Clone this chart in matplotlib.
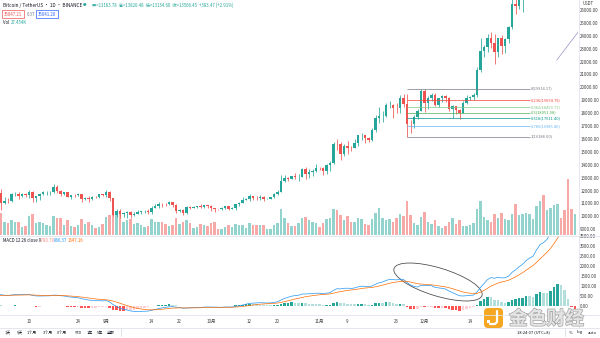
import numpy as np
import pandas as pd
import matplotlib
matplotlib.use('Agg')
import matplotlib.pyplot as plt
import matplotlib.patheffects as pe
from matplotlib.lines import Line2D
from matplotlib.patches import Ellipse, FancyBboxPatch, Rectangle

plt.rcParams['font.family'] = ['Noto Sans CJK SC', 'DejaVu Sans']

# BTC/USDT daily candles, 2020-08-01 .. 2021-01-13
dates = pd.date_range('2020-08-01', '2021-01-13', freq='D')

opens = [
    11335, 11801, 11072, 11220, 11191, 11744, 11762, 11595, 11754, 11676, 11878, 11411, 11585, 11769, 11865, 11913,
    11916, 12281, 11945, 11754, 11853, 11531, 11662, 11649, 11750, 11318, 11461, 11330, 11526, 11465, 11711,
    11650, 11924, 11388, 10140, 10446, 10169, 10255, 10373, 10126, 10221, 10342, 10392, 10442, 10323, 10680,
    10786, 10954, 10939, 10933, 11080, 10920, 10417, 10529, 10241, 10737, 10686, 10728, 10775, 10709, 10845,
    10776, 10620, 10570, 10542, 10666, 10792, 10599, 10669, 10923, 11050, 11296, 11384, 11555, 11429, 11422,
    11502, 11319, 11360, 11503, 11751, 11910, 12780, 12968, 12923, 13111, 13031, 13068, 13654, 13271, 13437, 13546,
    13781, 13761, 13549, 14023, 14144, 15590, 15580, 14817, 15475, 15328, 15297, 15701, 16276, 16318, 16068,
    15955, 16716, 17645, 17804, 17817, 18621, 18642, 18370, 18365, 19160, 18719, 17150, 17139, 17720, 18185,
    19696, 18765, 19205, 19422, 18650, 19148, 19359, 19167, 18324, 18541, 18255, 18036, 18808, 19175, 19273,
    19426, 21335, 22797, 23107, 23821, 23455, 22719, 23810, 23232, 23729, 24712, 26493, 26281, 27079, 27385, 28875,
    28923, 29331, 32176, 33000, 31989, 33949, 36769, 39432, 40586, 40088, 38150, 35410, 34049,
]
highs = [
    11862, 12124, 11474, 11418, 11786, 11914, 11902, 11808, 11807, 12067, 11945, 11618, 11800, 12000, 11975, 11935,
    12486, 12400, 12020, 11888, 11878, 11686, 11718, 11824, 11767, 11539, 11594, 11555, 11580, 11719, 11768,
    12067, 11950, 11462, 10580, 10565, 10350, 10400, 10440, 10350, 10483, 10400, 10478, 10584, 10790, 10950,
    11102, 11045, 11038, 11179, 11080, 10988, 10573, 10539, 10775, 10770, 10820, 10800, 10950, 10867, 10858,
    10920, 10665, 10600, 10700, 10800, 10800, 10695, 10960, 11104, 11485, 11443, 11720, 11557, 11560, 11630,
    11545, 11400, 11530, 11820, 12040, 13217, 13185, 13028, 13165, 13350, 13250, 13790, 13866, 13640, 13696, 14100,
    13867, 13830, 14067, 14259, 15750, 15969, 15770, 15650, 15840, 15460, 15965, 16340, 16480, 16332, 16134,
    16890, 17858, 18476, 18179, 18815, 18965, 18750, 18770, 19418, 19484, 19500, 17457, 17854, 18354, 19864,
    19914, 19342, 19566, 19527, 19177, 19420, 19420, 19294, 18639, 18557, 18292, 18948, 19411, 19349, 19570,
    21560, 23800, 23285, 24171, 24295, 24102, 23837, 24100, 23794, 24789, 26867, 28422, 27500, 27410, 28996, 29300,
    29600, 33300, 34778, 33600, 34360, 36939, 40365, 41950, 41380, 41350, 38264, 36628, 37850,
]
lows = [
    11226, 10518, 10975, 11000, 11093, 11562, 11338, 11538, 11521, 11461, 11130, 11135, 11278, 11670, 11693, 11689,
    11847, 11810, 11564, 11667, 11485, 11376, 11514, 11585, 11117, 11254, 11135, 11290, 11412, 11458, 11573,
    11531, 11160, 10000, 9960, 9875, 9990, 9900, 9887, 10015, 10190, 10191, 10285, 10200, 10213, 10630,
    10671, 10745, 10810, 10891, 10760, 10266, 10353, 10136, 10195, 10550, 10635, 10620, 10641, 10660, 10667,
    10432, 10365, 10495, 10520, 10600, 10530, 10565, 10530, 10830, 11050, 11250, 11178, 11300, 11284, 11265,
    11210, 11315, 11347, 11420, 11680, 11900, 12690, 12720, 12888, 12888, 12775, 13050, 12920, 12995, 13120, 13431,
    13600, 13195, 13290, 13525, 14093, 15160, 14344, 14703, 14805, 15072, 15272, 15440, 15952, 15700, 15800,
    15870, 16557, 17214, 17335, 17741, 18400, 17610, 18000, 18018, 18500, 16188, 16438, 16865, 17517, 18185,
    18100, 18330, 18925, 18565, 18500, 18857, 18902, 18200, 17650, 17911, 17572, 18020, 18711, 19000, 19050,
    19278, 21230, 22350, 22750, 23060, 21815, 22353, 22600, 22703, 23433, 24500, 25700, 26101, 25880, 27320, 27850,
    28624, 28946, 31963, 28130, 29900, 33288, 36300, 36500, 38720, 35111, 30420, 32531, 32380,
]
closes = [
    11801, 11072, 11220, 11191, 11744, 11762, 11595, 11754, 11676, 11878, 11411, 11585, 11769, 11865, 11913, 11916,
    12281, 11945, 11754, 11853, 11531, 11662, 11649, 11750, 11318, 11461, 11330, 11526, 11465, 11711, 11650,
    11924, 11388, 10140, 10446, 10169, 10255, 10373, 10126, 10221, 10342, 10392, 10442, 10323, 10680, 10786,
    10954, 10939, 10933, 11080, 10920, 10417, 10529, 10241, 10737, 10686, 10728, 10775, 10709, 10845, 10776,
    10620, 10570, 10542, 10666, 10792, 10599, 10669, 10923, 11050, 11296, 11384, 11555, 11429, 11422, 11502,
    11319, 11360, 11503, 11751, 11910, 12780, 12968, 12923, 13111, 13031, 13068, 13654, 13271, 13437, 13546, 13781,
    13761, 13549, 14023, 14144, 15590, 15580, 14817, 15475, 15328, 15297, 15701, 16276, 16318, 16068, 15955,
    16716, 17645, 17804, 17817, 18621, 18642, 18370, 18365, 19160, 18719, 17150, 17139, 17720, 18185, 19696,
    18765, 19205, 19422, 18650, 19148, 19359, 19167, 18324, 18541, 18255, 18036, 18808, 19175, 19273, 19426,
    21335, 22797, 23107, 23821, 23455, 22719, 23810, 23232, 23729, 24712, 26493, 26281, 27079, 27385, 28875, 28923,
    29331, 32178, 33000, 31988, 33949, 36769, 39432, 40582, 40088, 38150, 35404, 34051, 37371,
]
# volume, thousand BTC
volumes = [
    60, 100, 60, 55, 65, 60, 60, 35, 40, 85, 95, 55, 60, 55, 45, 40,
    85, 75, 75, 45, 65, 40, 35, 45, 70, 50, 60, 45, 30, 35, 50,
    80, 90, 120, 90, 105, 60, 65, 70, 50, 55, 45, 35, 40, 70, 60,
    60, 60, 50, 40, 45, 75, 50, 60, 65, 55, 30, 35, 50, 45, 40,
    55, 60, 25, 25, 35, 45, 35, 50, 45, 45, 30, 55, 45, 45, 45,
    45, 25, 25, 45, 55, 115, 75, 55, 40, 40, 55, 75, 80, 65, 60, 55,
    35, 55, 70, 75, 115, 110, 90, 65, 85, 60, 60, 75, 70, 50, 45,
    70, 100, 120, 75, 65, 70, 60, 75, 95, 85, 150, 90, 55, 45, 80,
    105, 60, 50, 65, 40, 30, 40, 60, 75, 50, 65, 40, 40, 45, 55,
    115, 150, 80, 65, 60, 95, 75, 100, 70, 65, 95, 140, 90, 95, 100, 95,
    70, 130, 150, 180, 110, 120, 135, 140, 75, 110, 250, 115, 95,
]
# MACD(12, 26, close, 9): fast line and signal line
macd_line = [
    600, 560, 540, 520, 550, 570, 565, 570, 565, 575, 530, 505, 500, 505, 510, 510,
    545, 540, 515, 500, 465, 445, 425, 415, 365, 335, 300, 285, 265, 265, 255,
    270, 215, 70, -15, -105, -165, -200, -245, -270, -275, -270, -260, -255, -215, -175,
    -130, -95, -70, -40, -30, -60, -75, -110, -100, -95, -85, -75, -70, -55, -50,
    -55, -65, -70, -65, -50, -55, -50, -25, 5, 50, 90, 130, 145, 155, 165,
    155, 150, 155, 180, 210, 300, 380, 435, 490, 520, 540, 595, 600, 610, 620, 640,
    640, 620, 645, 665, 785, 865, 855, 885, 890, 880, 900, 955, 990, 985, 965,
    1000, 1090, 1160, 1200, 1280, 1325, 1320, 1305, 1345, 1325, 1180, 1050, 980, 950, 1040,
    1025, 1020, 1015, 935, 905, 885, 850, 745, 670, 590, 510, 500, 515, 525, 545,
    700, 930, 1120, 1320, 1420, 1390, 1430, 1405, 1410, 1490, 1680, 1810, 1960, 2080, 2270, 2390,
    2490, 2800, 3070, 3170, 3330, 3650, 4090, 4480, 4700, 4640, 4280, 3850, 3730,
]
signal_line = [
    520, 530, 532, 530, 534, 541, 546, 551, 554, 558, 553, 543, 535, 529, 525, 522,
    526, 529, 526, 521, 510, 497, 483, 469, 448, 425, 400, 377, 355, 337, 320,
    310, 291, 247, 195, 135, 75, 20, -33, -80, -119, -149, -171, -188, -193, -189,
    -177, -161, -143, -122, -104, -95, -91, -95, -96, -96, -94, -90, -86, -80, -74,
    -70, -69, -69, -68, -64, -62, -60, -53, -41, -23, 0, 26, 50, 71, 90,
    103, 112, 121, 132, 148, 178, 218, 261, 307, 349, 387, 429, 463, 492, 518, 542,
    562, 573, 588, 603, 640, 685, 719, 752, 780, 800, 820, 847, 876, 898, 911,
    929, 961, 1001, 1041, 1089, 1136, 1173, 1199, 1228, 1248, 1234, 1197, 1154, 1113, 1098,
    1083, 1070, 1059, 1034, 1008, 984, 957, 915, 866, 811, 751, 701, 664, 636, 618,
    634, 693, 778, 886, 993, 1072, 1144, 1196, 1239, 1289, 1367, 1456, 1557, 1662, 1784, 1905,
    2022, 2178, 2356, 2519, 2681, 2875, 3118, 3390, 3652, 3850, 3936, 3919, 3881,
]

tick_dates = ['2020-08-10', '2020-08-24', '2020-09-01', '2020-09-14', '2020-09-22', '2020-10-01', '2020-10-12',
              '2020-10-20', '2020-11-01', '2020-11-09', '2020-11-23', '2020-12-01', '2020-12-14']
tick_labels = ['10', '24', '9月', '14', '22', '10月', '12', '20', '11月', '9', '23', '12月', '14']

# fibonacci retracement drawn from the 11-26 low
fib_ratios = ['0', '0.236', '0.382', '0.5', '0.618', '0.786', '1']
fib_prices = [19914.17, 19034.79, 18490.77, 18051.08, 17611.40, 16985.40, 16188.00]
fib_colors = ['#787b86', '#f44336', '#81c784', '#4caf50', '#009688', '#64b5f6', '#787b86']
fib_span = ['2020-11-26', '2020-12-31']

# user trend line (day offsets from the first candle, price)
trend_days = [159.8, 165.9]
trend_prices = [22120, 24290]

W, H = 600, 338
UP, DOWN = '#26a69a', '#ef5350'
TXT = '#3c3c3c'
SMALL = 3.2


def box(x0, y0, x1, y1):
    # pixel box (top-left origin) -> figure fraction rect
    return [x0 / W, 1 - y1 / H, (x1 - x0) / W, (y1 - y0) / H]


def fpos(x, y):
    return x / W, 1 - y / H


x = np.arange(len(dates))
o, h, l, c = map(np.array, (opens, highs, lows, closes))
up = c >= o
x0_lim = 9 - 29 / 3.5
x1_lim = x0_lim + 578 / 3.5

fig = plt.figure(figsize=(W / 100, H / 100), dpi=100)

# volume overlay sits under the price pane
axv = fig.add_axes(box(0, 0, 578, 235))
axv.bar(x, volumes, width=0.75, color=np.where(up, '#93d3cd', '#f7a9a8'), linewidth=0)
axv.set_xlim(x0_lim, x1_lim)
axv.set_ylim(0, max(volumes) * 4.2)
axv.axis('off')

ax = fig.add_axes(box(0, 0, 578, 235))
ax.patch.set_visible(False)
ax.vlines(x, l, h, color=np.where(up, UP, DOWN), linewidth=0.55)
ax.bar(x, np.maximum(np.abs(c - o), 15), bottom=np.minimum(o, c), width=0.66,
       color=np.where(up, UP, DOWN), linewidth=0)
ax.set_xlim(x0_lim, x1_lim)
ax.set_ylim(8558, 26775)

fx = [dates.get_loc(pd.Timestamp(d)) for d in fib_span]
for r, p, col in zip(fib_ratios, fib_prices, fib_colors):
    ax.hlines(p, fx[0], fx[1], color=col, linewidth=0.5)
    ax.text(fx[1] + 0.4, p, f'{r}({p:.2f})', color=col, fontsize=2.9, va='center', ha='left')

ax.plot(trend_days, trend_prices, color='#9b8fc4', linewidth=0.5)

ax.yaxis.tick_right()
ax.set_yticks(range(9000, 26001, 1000))
ax.set_yticklabels([f'{v:.2f}' for v in range(9000, 26001, 1000)])
ax.tick_params(axis='y', length=0, pad=1.6, labelsize=SMALL, labelcolor=TXT)
ax.set_xticks([])
for s in ax.spines.values():
    s.set_visible(False)

# MACD pane
axm = fig.add_axes(box(0, 236, 578, 314))
hist = np.array(macd_line) - np.array(signal_line)
prev = np.r_[hist[0], hist[:-1]]
hcol = np.where(hist >= 0, np.where(hist > prev, '#26a69a', '#b2dfdb'),
                np.where(hist > prev, '#ffcdd2', '#ff5252'))
axm.bar(x, hist, width=0.75, color=hcol, linewidth=0)
axm.plot(x, macd_line, color='#2196f3', linewidth=0.5)
axm.plot(x, signal_line, color='#ff6d00', linewidth=0.5)
axm.set_xlim(x0_lim, x1_lim)
axm.set_ylim(-400, 3500)
axm.yaxis.tick_right()
axm.set_yticks(range(0, 3501, 500))
axm.set_yticklabels([f'{v:.2f}' for v in range(0, 3501, 500)])
axm.tick_params(axis='y', length=0, pad=1.6, labelsize=SMALL, labelcolor=TXT)
axm.set_xticks([dates.get_loc(pd.Timestamp(d)) for d in tick_dates])
axm.set_xticklabels(tick_labels)
axm.tick_params(axis='x', length=0, pad=3.5, labelsize=SMALL, labelcolor=TXT)
for s in axm.spines.values():
    s.set_visible(False)

# hand-drawn ellipse around the crossover
axm.add_patch(Ellipse((4.38, (H - 282) / 100), 0.92, 0.28, angle=-17, fill=False,
                      edgecolor='#444444', linewidth=0.55, transform=fig.dpi_scale_trans))

# pane separators
for (xa, ya, xb, yb) in [(0, 235.5, 600, 235.5), (0, 314.5, 600, 314.5), (0, 327.5, 600, 327.5),
                         (578.5, 0, 578.5, 327.5)]:
    fig.add_artist(Line2D([xa / W, xb / W], [1 - ya / H, 1 - yb / H], color='#e0e3eb', linewidth=0.6))

# header
fig.text(*fpos(3, 5), 'Bitcoin / TetherUS · 1D · BINANCE', fontsize=3.4, color='#131722', va='center')
fig.text(*fpos(83, 5), '●', fontsize=2.6, color=UP, va='center')
fig.text(*fpos(92, 5), '开=13183.78  高=13826.48  低=13134.60  收=13566.45  +383.47 (+2.91%)',
         fontsize=3.1, color=UP, va='center')
fig.text(*fpos(4, 14), '35047.21', fontsize=3.1, color=DOWN, va='center',
         bbox=dict(boxstyle='square,pad=0.35', fc='white', ec=DOWN, lw=0.5))
fig.text(*fpos(26.5, 14), '6.37', fontsize=3.1, color='#787b86', va='center')
fig.text(*fpos(38, 14), '35041.20', fontsize=3.1, color='#2962ff', va='center',
         bbox=dict(boxstyle='square,pad=0.35', fc='white', ec='#2962ff', lw=0.5))
fig.text(*fpos(3, 23), 'Vol', fontsize=3.1, color='#131722', va='center')
fig.text(*fpos(11, 23), '27.454K', fontsize=3.1, color=UP, va='center')
fig.text(*fpos(583, 3.5), 'USDT', fontsize=3.1, color=TXT, va='center')

# MACD legend
fig.text(*fpos(3, 240), 'MACD 12 26 close 9', fontsize=3.1, color='#131722', va='center')
fig.text(*fpos(40, 240), '-780.79', fontsize=3.1, color='#ff8a80', va='center')
fig.text(*fpos(54, 240), '866.37', fontsize=3.1, color='#2196f3', va='center')
fig.text(*fpos(68, 240), '1647.16', fontsize=3.1, color='#ff6d00', va='center')

# bottom toolbar
for bx, lab in zip([5, 17, 27, 43, 57, 74, 87, 97, 107],
                   ['1天', '5天', '1个月', '3个月', '6个月', 'YTD', '1年', '5年', '全部']):
    fig.text(*fpos(bx, 332.5), lab, fontsize=2.9, color='#131722', va='center')
fig.add_artist(Line2D([121 / W, 121 / W], [1 - 329 / H, 1 - 336 / H], color='#d1d4dc', linewidth=0.5))
fig.text(*fpos(517, 332.5), '18:24:07 (UTC+8)', fontsize=3.0, color='#131722', va='center')
fig.add_artist(Line2D([565 / W, 565 / W], [1 - 329 / H, 1 - 336 / H], color='#d1d4dc', linewidth=0.5))
fig.text(*fpos(569, 332.5), '%', fontsize=3.0, color='#131722', va='center')
fig.text(*fpos(577, 332.5), 'log', fontsize=3.0, color='#131722', va='center')
fig.text(*fpos(588, 332.5), 'auto', fontsize=3.0, color='#131722', va='center')

# site watermark
fig.add_artist(FancyBboxPatch((4.84, (H - 328) / 100), 0.19, 0.20, boxstyle='round,pad=0,rounding_size=0.04',
                              fc='#f5a623', ec='none', transform=fig.dpi_scale_trans))
fig.add_artist(Line2D([4.97, 4.97, 4.95, 4.90], [0.27, 0.16, 0.14, 0.14], color='white', linewidth=1.6,
                      solid_capstyle='round', transform=fig.dpi_scale_trans))
fig.add_artist(Rectangle((4.87, 0.15), 0.03, 0.03, fc='white', ec='none', transform=fig.dpi_scale_trans))
fig.text(*fpos(509, 319), '金色财经', fontsize=13.5, fontweight='bold', color='#e4e4e4', va='center',
         path_effects=[pe.withStroke(linewidth=1.0, foreground='#a5a5a5')])

fig.savefig('out.png', dpi=100, facecolor='white')
